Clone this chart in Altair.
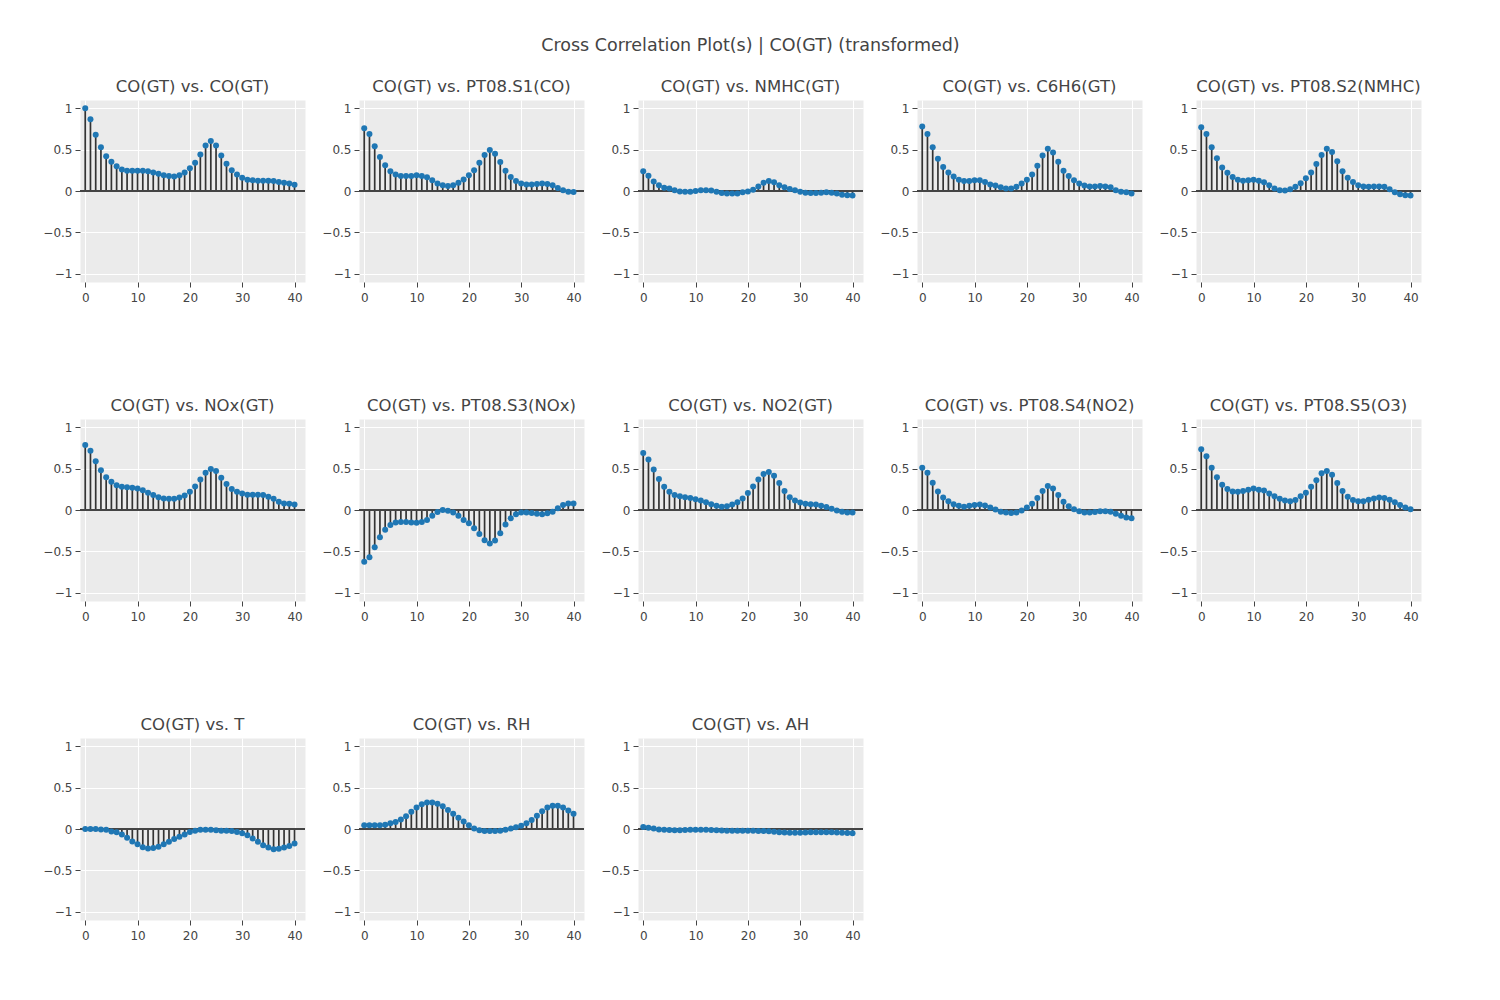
import altair as alt
import pandas as pd

lags = list(range(41))

titles = [
    "CO(GT) vs. CO(GT)", "CO(GT) vs. PT08.S1(CO)", "CO(GT) vs. NMHC(GT)",
    "CO(GT) vs. C6H6(GT)", "CO(GT) vs. PT08.S2(NMHC)", "CO(GT) vs. NOx(GT)",
    "CO(GT) vs. PT08.S3(NOx)", "CO(GT) vs. NO2(GT)", "CO(GT) vs. PT08.S4(NO2)",
    "CO(GT) vs. PT08.S5(O3)", "CO(GT) vs. T", "CO(GT) vs. RH", "CO(GT) vs. AH",
]

co_gt = [1.0, 0.867, 0.68, 0.53, 0.42, 0.355, 0.30, 0.26, 0.245, 0.245, 0.245, 0.245, 0.24, 0.225,
         0.21, 0.19, 0.18, 0.175, 0.19, 0.225, 0.275, 0.34, 0.44, 0.55, 0.605, 0.55, 0.43, 0.33,
         0.25, 0.20, 0.16, 0.135, 0.13, 0.125, 0.125, 0.125, 0.12, 0.11, 0.10, 0.09, 0.075]
pt08_s1 = [0.76, 0.69, 0.54, 0.41, 0.31, 0.24, 0.20, 0.18, 0.18, 0.18, 0.19, 0.18, 0.165, 0.13,
           0.09, 0.07, 0.06, 0.07, 0.10, 0.14, 0.19, 0.25, 0.34, 0.435, 0.495, 0.45, 0.35, 0.245,
           0.17, 0.12, 0.09, 0.08, 0.08, 0.085, 0.09, 0.085, 0.07, 0.035, 0.01, -0.01, -0.012]
nmhc = [0.24, 0.185, 0.115, 0.07, 0.04, 0.03, 0.01, -0.005, -0.01, -0.01, 0.0, 0.01, 0.01, 0.005,
        -0.01, -0.025, -0.03, -0.03, -0.03, -0.015, -0.005, 0.015, 0.055, 0.10, 0.12, 0.105, 0.07,
        0.045, 0.025, 0.008, -0.01, -0.02, -0.025, -0.025, -0.02, -0.015, -0.02, -0.03, -0.045,
        -0.05, -0.055]
c6h6 = [0.78, 0.69, 0.53, 0.39, 0.29, 0.225, 0.175, 0.135, 0.12, 0.12, 0.13, 0.13, 0.11, 0.08,
        0.065, 0.045, 0.03, 0.03, 0.05, 0.09, 0.135, 0.20, 0.305, 0.43, 0.51, 0.465, 0.355, 0.245,
        0.18, 0.13, 0.09, 0.065, 0.055, 0.055, 0.06, 0.055, 0.045, 0.01, -0.01, -0.015, -0.03]
pt08_s2 = [0.77, 0.69, 0.53, 0.395, 0.285, 0.22, 0.17, 0.135, 0.125, 0.13, 0.135, 0.125, 0.105,
           0.07, 0.03, 0.01, 0.005, 0.02, 0.05, 0.095, 0.155, 0.225, 0.325, 0.435, 0.51, 0.47,
           0.36, 0.24, 0.16, 0.11, 0.07, 0.055, 0.05, 0.055, 0.055, 0.05, 0.02, -0.015, -0.04,
           -0.05, -0.055]
nox = [0.785, 0.715, 0.59, 0.48, 0.395, 0.34, 0.30, 0.28, 0.275, 0.27, 0.26, 0.24, 0.21, 0.18,
       0.155, 0.14, 0.135, 0.135, 0.15, 0.175, 0.22, 0.285, 0.37, 0.45, 0.495, 0.47, 0.39, 0.315,
       0.255, 0.22, 0.20, 0.185, 0.185, 0.185, 0.18, 0.16, 0.135, 0.10, 0.08, 0.075, 0.065]
pt08_s3 = [-0.625, -0.57, -0.45, -0.33, -0.24, -0.18, -0.15, -0.145, -0.145, -0.15, -0.155,
           -0.145, -0.12, -0.07, -0.025, 0.0, -0.01, -0.03, -0.07, -0.12, -0.16, -0.22, -0.29,
           -0.365, -0.405, -0.37, -0.28, -0.175, -0.10, -0.05, -0.03, -0.03, -0.035, -0.045,
           -0.05, -0.04, -0.02, 0.02, 0.06, 0.08, 0.08]
no2 = [0.69, 0.61, 0.49, 0.375, 0.28, 0.22, 0.18, 0.165, 0.155, 0.145, 0.13, 0.115, 0.095, 0.07,
       0.05, 0.04, 0.045, 0.065, 0.095, 0.14, 0.205, 0.285, 0.37, 0.435, 0.46, 0.415, 0.325,
       0.23, 0.155, 0.115, 0.09, 0.075, 0.07, 0.065, 0.05, 0.035, 0.015, -0.005, -0.02, -0.03,
       -0.03]
pt08_s4 = [0.51, 0.45, 0.33, 0.225, 0.15, 0.105, 0.07, 0.05, 0.04, 0.05, 0.06, 0.065, 0.055, 0.03,
           0.005, -0.02, -0.03, -0.035, -0.03, -0.005, 0.03, 0.075, 0.145, 0.23, 0.29, 0.26, 0.18,
           0.10, 0.045, 0.008, -0.015, -0.03, -0.03, -0.025, -0.015, -0.015, -0.02, -0.045,
           -0.07, -0.09, -0.10]
pt08_s5 = [0.735, 0.65, 0.51, 0.395, 0.305, 0.255, 0.225, 0.22, 0.23, 0.245, 0.26, 0.245, 0.235,
           0.20, 0.165, 0.135, 0.115, 0.105, 0.12, 0.165, 0.21, 0.28, 0.36, 0.445, 0.47, 0.425,
           0.325, 0.23, 0.16, 0.12, 0.105, 0.105, 0.125, 0.14, 0.15, 0.145, 0.125, 0.095, 0.06,
           0.03, 0.01]
temp = [0.0, 0.0, 0.0, -0.005, -0.01, -0.03, -0.04, -0.065, -0.105, -0.15, -0.185, -0.22, -0.235,
        -0.23, -0.215, -0.185, -0.155, -0.12, -0.095, -0.065, -0.035, -0.02, -0.01, -0.01, -0.01,
        -0.015, -0.02, -0.02, -0.025, -0.035, -0.05, -0.075, -0.115, -0.155, -0.195, -0.225,
        -0.245, -0.24, -0.225, -0.205, -0.175]
rh = [0.045, 0.045, 0.045, 0.045, 0.05, 0.07, 0.085, 0.115, 0.155, 0.21, 0.26, 0.30, 0.32, 0.32,
      0.305, 0.275, 0.23, 0.185, 0.135, 0.09, 0.045, 0.005, -0.015, -0.025, -0.025, -0.025, -0.02,
      -0.01, 0.005, 0.02, 0.04, 0.07, 0.11, 0.16, 0.215, 0.26, 0.28, 0.28, 0.26, 0.225, 0.185]
ah = [0.025, 0.015, 0.005, -0.005, -0.01, -0.012, -0.015, -0.015, -0.012, -0.01, -0.01, -0.01,
      -0.01, -0.012, -0.015, -0.018, -0.02, -0.02, -0.02, -0.02, -0.02, -0.022, -0.025, -0.025,
      -0.028, -0.032, -0.038, -0.042, -0.045, -0.045, -0.045, -0.042, -0.04, -0.038, -0.038,
      -0.038, -0.04, -0.042, -0.045, -0.048, -0.05]

series = [co_gt, pt08_s1, nmhc, c6h6, pt08_s2, nox, pt08_s3, no2, pt08_s4, pt08_s5, temp, rh, ah]

FONT = "DejaVu Sans"
W, H = 225, 182
xscale = alt.Scale(domain=[-1, 42], nice=False, zero=False)
yscale = alt.Scale(domain=[-1.1, 1.1], nice=False)
xaxis = alt.Axis(values=[0, 10, 20, 30, 40], format="d", title=None, labelPadding=5)
yaxis = alt.Axis(values=[-1, -0.5, 0, 0.5, 1], format="~g", title=None)

panels = []
for name, vals in zip(titles, series):
    df = pd.DataFrame({"lag": lags, "value": vals, "base": [0.0] * len(lags)})
    base = alt.Chart(df)
    stems = base.mark_rule(color="#333333", strokeWidth=1.7).encode(
        x=alt.X("lag:Q", scale=xscale, axis=xaxis),
        y=alt.Y("base:Q", scale=yscale, axis=yaxis),
        y2="value:Q",
    )
    zero = alt.Chart(pd.DataFrame({"z": [0.0]})).mark_rule(color="#444444", strokeWidth=2).encode(
        y=alt.Y("z:Q", scale=yscale, axis=yaxis)
    )
    pts = base.mark_circle(color="#1f77b4", size=36, opacity=1).encode(
        x=alt.X("lag:Q", scale=xscale, axis=xaxis),
        y=alt.Y("value:Q", scale=yscale, axis=yaxis),
    )
    panel = alt.layer(stems, zero, pts).properties(
        width=W, height=H,
        title=alt.Title(name, fontSize=16.5, fontWeight="normal", color="#444444", offset=5),
    )
    panels.append(panel)

chart = alt.concat(*panels, columns=5, spacing={"row": 137, "column": 54}, bounds="flush").properties(
    title=alt.Title(
        "Cross Correlation Plot(s) | CO(GT) (transformed)",
        fontSize=17.5, fontWeight="normal", color="#444444", anchor="middle", offset=24, dx=18,
    ),
    padding={"left": 34, "top": 28, "right": 5, "bottom": 5},
).configure(font=FONT).configure_view(
    fill="#EBEBEB", stroke="transparent"
).configure_axis(
    domain=False, grid=True, gridColor="#FFFFFF", gridWidth=1,
    ticks=True, tickColor="#444444", tickSize=5, labelPadding=3,
    labelFontSize=12, labelColor="#444444", labelFont=FONT,
).configure_title(font=FONT)

chart.save("out.html", embed_options={"renderer": "svg", "actions": False})
